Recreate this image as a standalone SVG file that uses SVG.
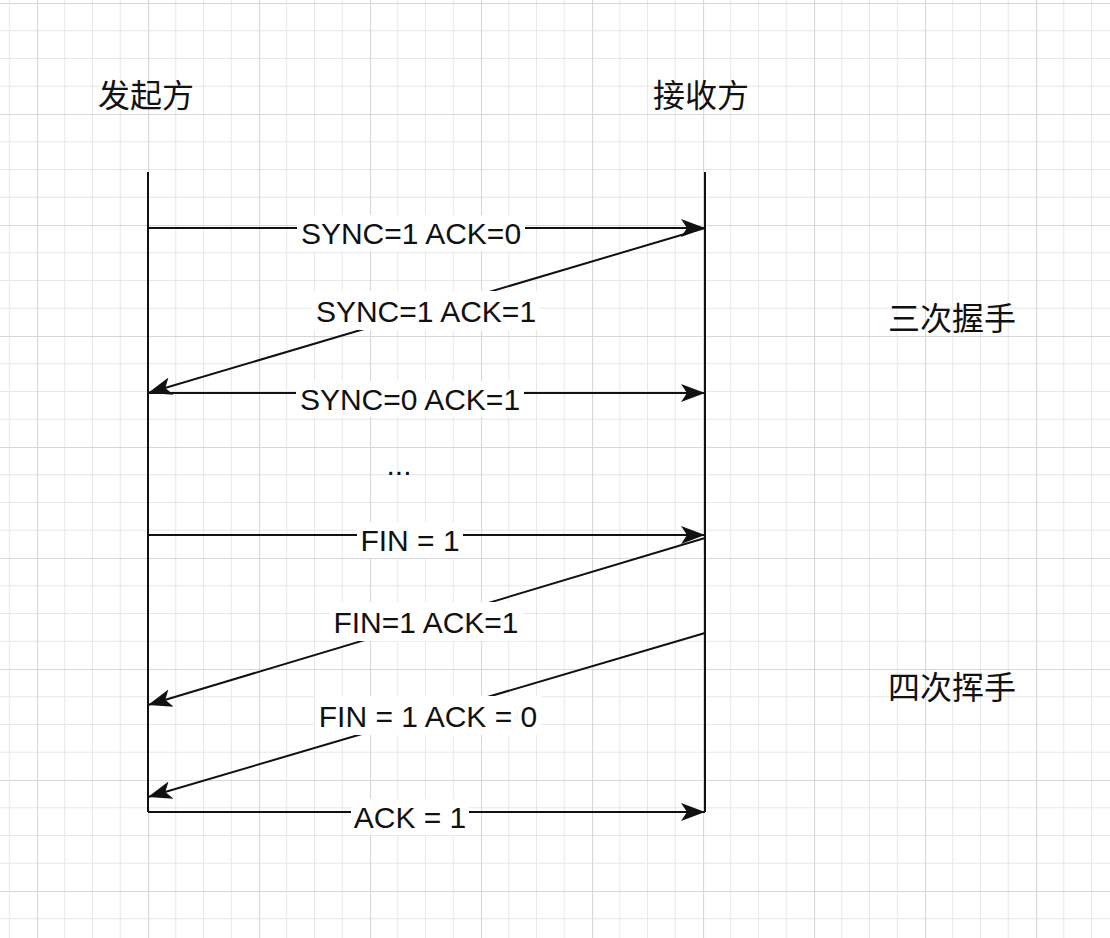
<svg xmlns="http://www.w3.org/2000/svg" width="1110" height="938" viewBox="0 0 1110 938">
  <style>
    .cjk { font-family: "Noto Sans CJK SC", "Noto Sans", sans-serif; font-size: 32px; fill: #111; }
    .lbl { font-family: "Liberation Sans", Arial, sans-serif; font-size: 30px; fill: #111; text-anchor: middle; }
    .life { stroke: #111; stroke-width: 2; fill: none; }
    .msg { stroke: #111; stroke-width: 2; fill: none; marker-end: url(#arr); }
    .bg { fill: #ffffff; }
  </style>
  <defs>
    <pattern id="grid" patternUnits="userSpaceOnUse" x="37" y="3" width="111" height="111">
      <rect width="111" height="111" fill="#ffffff"/>
      <path d="M27.75 0V111M55.5 0V111M83.25 0V111M0 27.75H111M0 55.5H111M0 83.25H111" stroke="#e8e8e8" stroke-width="1" fill="none"/>
      <path d="M0.5 0V111M0 0.5H111" stroke="#d8d8d8" stroke-width="1.2" fill="none"/>
    </pattern>
    <marker id="arr" markerUnits="userSpaceOnUse" markerWidth="26" markerHeight="22" viewBox="0 0 26 22" refX="24" refY="11" orient="auto">
      <path d="M0,2 L24,11 L0,20 L6,11 Z" fill="#111"/>
    </marker>
  </defs>

  <rect x="0" y="0" width="1110" height="938" fill="url(#grid)"/>

  <g id="initiator">
    <text class="cjk" x="98" y="107">发起方</text>
    <line class="life" x1="148" y1="172" x2="148" y2="812"/>
  </g>
  <g id="receiver">
    <text class="cjk" x="653" y="107">接收方</text>
    <line class="life" x1="705" y1="172" x2="705" y2="812"/>
  </g>
  <g id="handshake-note">
    <text class="cjk" x="888" y="330">三次握手</text>
  </g>
  <g id="wave-note">
    <text class="cjk" x="888" y="699">四次挥手</text>
  </g>
  <g id="ellipsis">
    <text class="lbl" x="399" y="475">...</text>
  </g>

  <g id="connectors">
    <g id="m1">
      <line class="msg" x1="148" y1="228" x2="705" y2="228"/>
      <rect class="bg" x="297" y="215" width="228" height="36"/>
      <text class="lbl" x="411" y="244">SYNC=1 ACK=0</text>
    </g>
    <g id="m2">
      <line class="msg" x1="705" y1="228" x2="148" y2="393"/>
      <rect class="bg" x="312" y="291" width="228" height="39"/>
      <text class="lbl" x="426" y="322">SYNC=1 ACK=1</text>
    </g>
    <g id="m3">
      <line class="msg" x1="148" y1="393" x2="705" y2="393"/>
      <rect class="bg" x="296" y="381" width="228" height="36"/>
      <text class="lbl" x="410" y="410">SYNC=0 ACK=1</text>
    </g>
    <g id="m4">
      <line class="msg" x1="148" y1="535" x2="705" y2="535"/>
      <rect class="bg" x="357" y="522" width="106" height="36"/>
      <text class="lbl" x="410" y="551">FIN = 1</text>
    </g>
    <g id="m5">
      <line class="msg" x1="705" y1="538" x2="148" y2="705"/>
      <rect class="bg" x="330" y="602" width="193" height="39"/>
      <text class="lbl" x="426" y="633">FIN=1 ACK=1</text>
    </g>
    <g id="m6">
      <line class="msg" x1="705" y1="633" x2="148" y2="797"/>
      <rect class="bg" x="315" y="696" width="226" height="39"/>
      <text class="lbl" x="428" y="727">FIN = 1 ACK = 0</text>
    </g>
    <g id="m7">
      <line class="msg" x1="148" y1="812" x2="705" y2="812"/>
      <rect class="bg" x="351" y="799" width="118" height="36"/>
      <text class="lbl" x="410" y="828">ACK = 1</text>
    </g>
  </g>
</svg>
